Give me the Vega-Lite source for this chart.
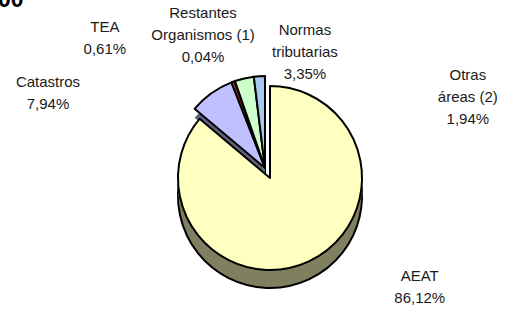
{
  "$schema": "https://vega.github.io/schema/vega-lite/v6.json",
  "width": 470,
  "height": 268,
  "autosize": {"type": "none"},
  "padding": {"left": 35, "top": 44, "right": 0, "bottom": 0},
  "background": "white",
  "title": {"text": "00", "anchor": "start", "frame": "group", "dx": -37, "dy": 24, "offset": 0, "baseline": "alphabetic", "fontSize": 23, "fontWeight": "bold", "font": "Liberation Sans", "color": "black"},
  "config": {"view": {"stroke": null}},
  "data": {"values": [
    {"k": 1, "name": "AEAT", "pct": 86.12},
    {"k": 2, "name": "Catastros", "pct": 7.94},
    {"k": 3, "name": "TEA", "pct": 0.61},
    {"k": 4, "name": "Restantes\nOrganismos (1)", "pct": 0.04},
    {"k": 5, "name": "Normas\ntributarias", "pct": 3.35},
    {"k": 6, "name": "Otras\náreas (2)", "pct": 1.94}
  ]},
  "transform": [
    {"stack": "pct", "groupby": [], "sort": [{"field": "k"}], "as": ["start", "end"]},
    {"calculate": "(datum.start + datum.end) / 2", "as": "mid"},
    {"calculate": "datum.name + '\\n' + replace(format(datum.pct, '.2f'), '.', ',') + '%'", "as": "label"}
  ],
  "resolve": {"scale": {"fill": "independent"}},
  "layer": [
    {
      "transform": [{"filter": "datum.k > 1"}],
      "mark": {"type": "arc", "outerRadius": 92, "xOffset": -5, "yOffset": 8, "stroke": "black", "strokeWidth": 2, "strokeJoin": "round"},
      "encoding": {
        "theta": {"field": "start", "type": "quantitative", "scale": {"domain": [0, 100]}},
        "theta2": {"field": "end"},
        "fill": {"field": "name", "type": "nominal", "legend": null, "scale": {"domain": ["Catastros", "TEA", "Restantes\nOrganismos (1)", "Normas\ntributarias", "Otras\náreas (2)"], "range": ["#606080", "#663333", "#993333", "#669966", "#607890"]}}
      }
    },
    {
      "transform": [{"filter": "datum.k > 1"}],
      "mark": {"type": "arc", "outerRadius": 92, "xOffset": -5, "yOffset": -1},
      "encoding": {
        "theta": {"field": "start", "type": "quantitative", "scale": {"domain": [0, 100]}},
        "theta2": {"field": "end"},
        "fill": {"field": "name", "type": "nominal", "legend": null, "scale": {"domain": ["Catastros", "TEA", "Restantes\nOrganismos (1)", "Normas\ntributarias", "Otras\náreas (2)"], "range": ["#606080", "#663333", "#993333", "#669966", "#607890"]}}
      }
    },
    {
      "transform": [{"filter": "datum.k > 1"}],
      "mark": {"type": "arc", "outerRadius": 92, "xOffset": -5, "yOffset": -10, "stroke": "black", "strokeWidth": 2, "strokeJoin": "round"},
      "encoding": {
        "theta": {"field": "start", "type": "quantitative", "scale": {"domain": [0, 100]}},
        "theta2": {"field": "end"},
        "fill": {"field": "name", "type": "nominal", "legend": null, "scale": {"domain": ["Catastros", "TEA", "Restantes\nOrganismos (1)", "Normas\ntributarias", "Otras\náreas (2)"], "range": ["#C0C0FF", "#993333", "#FF8080", "#CCFFCC", "#A6CAF0"]}}
      }
    },
    {
      "transform": [{"filter": "datum.k == 1"}],
      "mark": {"type": "arc", "outerRadius": 92, "yOffset": 18, "fill": "#808060", "stroke": "black", "strokeWidth": 2, "strokeJoin": "round"},
      "encoding": {
        "theta": {"field": "start", "type": "quantitative", "scale": {"domain": [0, 100]}},
        "theta2": {"field": "end"}
      }
    },
    {
      "transform": [{"filter": "datum.k == 1"}],
      "mark": {"type": "arc", "outerRadius": 92, "yOffset": 9, "fill": "#808060"},
      "encoding": {
        "theta": {"field": "start", "type": "quantitative", "scale": {"domain": [0, 100]}},
        "theta2": {"field": "end"}
      }
    },
    {
      "transform": [{"filter": "datum.k == 1"}],
      "mark": {"type": "arc", "outerRadius": 92, "fill": "#FFFFC0", "stroke": "black", "strokeWidth": 2, "strokeJoin": "round"},
      "encoding": {
        "theta": {"field": "start", "type": "quantitative", "scale": {"domain": [0, 100]}},
        "theta2": {"field": "end"}
      }
    },
    {
      "transform": [{"filter": "datum.k == 1"}],
      "mark": {"type": "text", "radius": 179, "thetaOffset": -0.555, "lineBreak": "\n", "font": "Liberation Sans", "fontSize": 15, "lineHeight": 22, "color": "#1a1a1a", "align": "center", "baseline": "middle"},
      "encoding": {"theta": {"field": "mid", "type": "quantitative", "scale": {"domain": [0, 100]}}, "text": {"field": "label"}}
    },
    {
      "transform": [{"filter": "datum.k == 2"}],
      "mark": {"type": "text", "radius": 242, "thetaOffset": -0.539, "lineBreak": "\n", "font": "Liberation Sans", "fontSize": 15, "lineHeight": 22, "color": "#1a1a1a", "align": "center", "baseline": "middle"},
      "encoding": {"theta": {"field": "mid", "type": "quantitative", "scale": {"domain": [0, 100]}}, "text": {"field": "label"}}
    },
    {
      "transform": [{"filter": "datum.k == 3"}],
      "mark": {"type": "text", "radius": 224, "thetaOffset": -0.475, "lineBreak": "\n", "font": "Liberation Sans", "fontSize": 15, "lineHeight": 22, "color": "#1a1a1a", "align": "center", "baseline": "middle"},
      "encoding": {"theta": {"field": "mid", "type": "quantitative", "scale": {"domain": [0, 100]}}, "text": {"field": "label"}}
    },
    {
      "transform": [{"filter": "datum.k == 4"}],
      "mark": {"type": "text", "radius": 178, "thetaOffset": -0.052, "lineBreak": "\n", "font": "Liberation Sans", "fontSize": 15, "lineHeight": 22, "color": "#1a1a1a", "align": "center", "baseline": "middle"},
      "encoding": {"theta": {"field": "mid", "type": "quantitative", "scale": {"domain": [0, 100]}}, "text": {"field": "label"}}
    },
    {
      "transform": [{"filter": "datum.k == 5"}],
      "mark": {"type": "text", "radius": 152, "thetaOffset": 0.459, "lineBreak": "\n", "font": "Liberation Sans", "fontSize": 15, "lineHeight": 22, "color": "#1a1a1a", "align": "center", "baseline": "middle"},
      "encoding": {"theta": {"field": "mid", "type": "quantitative", "scale": {"domain": [0, 100]}}, "text": {"field": "label"}}
    },
    {
      "transform": [{"filter": "datum.k == 6"}],
      "mark": {"type": "text", "radius": 223, "thetaOffset": 1.152, "lineBreak": "\n", "font": "Liberation Sans", "fontSize": 15, "lineHeight": 22, "color": "#1a1a1a", "align": "center", "baseline": "middle"},
      "encoding": {"theta": {"field": "mid", "type": "quantitative", "scale": {"domain": [0, 100]}}, "text": {"field": "label"}}
    }
  ]
}
